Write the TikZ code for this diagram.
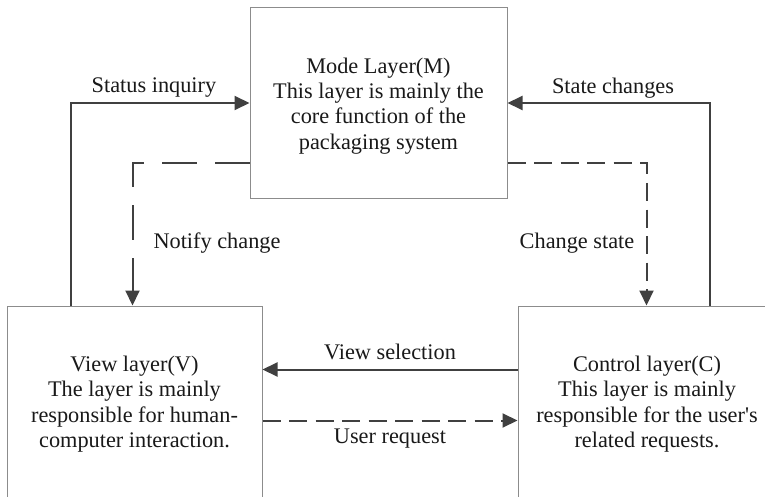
\documentclass[tikz,border=0pt]{standalone}
\usepackage{fontspec}
\setmainfont{Liberation Serif}
\usetikzlibrary{arrows.meta}
\definecolor{linegray}{HTML}{404040}
\definecolor{boxgray}{HTML}{8C8C8C}
\tikzset{
  layerbox/.style={draw=boxgray, line width=1pt, fill=white, inner sep=0pt},
  layertext/.style={align=center, inner sep=0pt, text=black!90, font=\fontsize{22.3}{25.3}\selectfont},
  flowlabel/.style={inner sep=0pt, text=black!90, font=\fontsize{22.3}{25.3}\selectfont},
  flow/.style={draw=linegray, line width=2pt,
    -{Triangle[length=15pt,width=14pt]}},
  longdash/.style={dash pattern=on 35pt off 18pt},
  shortdash/.style={dash pattern=on 18pt off 8.5pt}
}
\begin{document}
\begin{tikzpicture}[x=1pt,y=-1pt]
\clip (0,0) rectangle (765,497);
\fill[white] (0,0) rectangle (765,497);

% the three layers
\node[layerbox, minimum width=257pt, minimum height=190pt] (M) at (378.5,103) {};
\node[layerbox, minimum width=255pt, minimum height=260pt] (V) at (134.5,436) {};
\node[layerbox, minimum width=290pt, minimum height=260pt] (C) at (663,436) {};

\node[layertext] (Mt) at (378.5,106) {Mode Layer(M)\\This layer is mainly the\\core function of the\\packaging system};
\node[layertext] (Vt) at (134.5,404) {View layer(V)\\The layer is mainly\\responsible for human-\\computer interaction.};
\node[layertext] (Ct) at (647,404) {Control layer(C)\\This layer is mainly\\responsible for the user\textquotesingle s\\related requests.};

% view -> mode and control -> mode
\draw[flow] ([xshift=64pt]V.north west) |- (M.west);
\draw[flow] ([xshift=192pt]C.north west) |- (M.east);
% mode -> view and mode -> control
\draw[flow, longdash] ([yshift=-60pt]M.west) -| ([xshift=126pt]V.north west);
\draw[flow, shortdash] ([yshift=-60pt]M.east) -| ([xshift=129pt]C.north west);
% control <-> view
\draw[flow] ([yshift=-64pt]C.north west) -- ([yshift=-64pt]V.north east);
\draw[flow, shortdash] ([yshift=-115pt]V.north east) -- ([yshift=-115pt]C.north west);

\node[flowlabel] (l1) at (154,88) {Status inquiry};
\node[flowlabel] (l2) at (613,88) {State changes};
\node[flowlabel] (l3) at (217,243) {Notify change};
\node[flowlabel] (l4) at (577,243) {Change state};
\node[flowlabel] (l5) at (390,352) {View selection};
\node[flowlabel] (l6) at (390,439) {User request};
\end{tikzpicture}
\end{document}
